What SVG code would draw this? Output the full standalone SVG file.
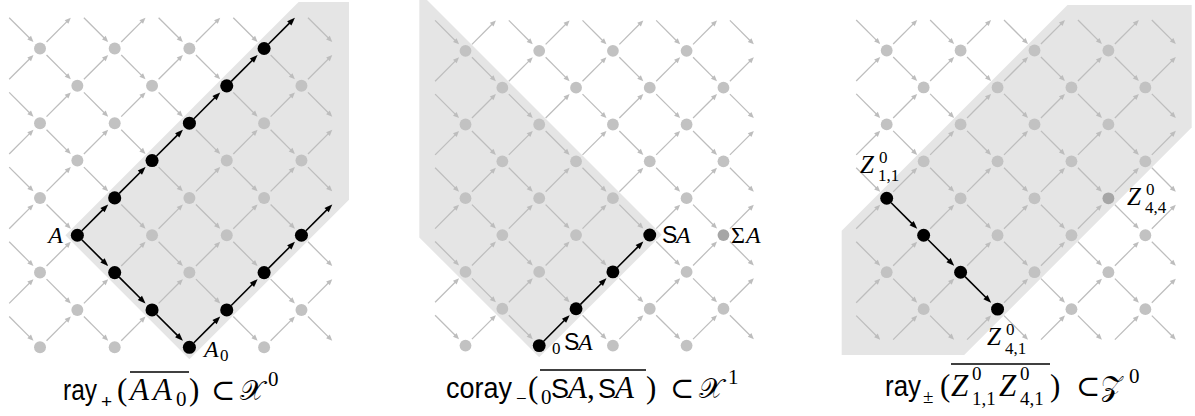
<svg xmlns="http://www.w3.org/2000/svg" width="1195" height="416" viewBox="0 0 1195 416">
<style>
.sh{fill:#e5e5e5}
.ge{stroke:#bdbdbd;fill:#bdbdbd;stroke-width:.034}
.ke{stroke:#000;fill:#000;stroke-width:.042}
.n circle{fill:#c2c2c2}
.k circle{fill:#000}
.d circle{fill:#a6a6a6}
.it{font-family:"Liberation Serif",serif;font-style:italic}
.rm{font-family:"Liberation Serif",serif}
.sf{font-family:"Liberation Sans",sans-serif}
.sy{font-family:"DejaVu Serif","DejaVu Sans",serif}
text{fill:#000}
.ov{stroke:#000;stroke-width:1.3}
</style>
<defs>
<g id="dr"><line x1=".175" y1=".175" x2=".74" y2=".74"/><polygon points=".825,.825 .7595,.6605 .6605,.7595" stroke="none"/></g>
<g id="ur"><line x1=".175" y1="-.175" x2=".74" y2="-.74"/><polygon points=".825,-.825 .7595,-.6605 .6605,-.7595" stroke="none"/></g>
<g id="kdr"><line x1=".12" y1=".12" x2=".7" y2=".7"/><polygon points=".825,.825 .731,.617 .617,.731" stroke="none"/></g>
<g id="kur"><line x1=".12" y1="-.12" x2=".7" y2="-.7"/><polygon points=".825,-.825 .731,-.617 .617,-.731" stroke="none"/></g>
<g id="co"><use href="#dr" y="-1"/><use href="#dr" y="1"/><use href="#dr" y="3"/><use href="#dr" y="5"/><use href="#dr" y="7"/><use href="#ur" y="1"/><use href="#ur" y="3"/><use href="#ur" y="5"/><use href="#ur" y="7"/></g>
<g id="ce"><use href="#dr" y="0"/><use href="#dr" y="2"/><use href="#dr" y="4"/><use href="#dr" y="6"/><use href="#ur" y="0"/><use href="#ur" y="2"/><use href="#ur" y="4"/><use href="#ur" y="6"/><use href="#ur" y="8"/></g>
<g id="lat"><use href="#co" x="-1"/><use href="#ce" x="0"/><use href="#co" x="1"/><use href="#ce" x="2"/><use href="#co" x="3"/><use href="#ce" x="4"/><use href="#co" x="5"/><use href="#ce" x="6"/><use href="#co" x="7"/></g>
</defs>

<polygon class="sh" points="65.35,235.25 298.6,2 349,2 349,199.7 189.4,359.3"/>
<polygon class="sh" points="419.3,0 427,0 661.75,234.75 539.2,357.3 419.3,237.4"/>
<polygon class="sh" points="841.7,230.8 1067.5,5 1191.7,5 1191.7,127.5 964.2,355 841.7,355"/>

<!-- Panel 1 -->
<g transform="translate(40,48.5) scale(37.35)">
<g id="p1-connectors">
<use href="#lat" class="ge"/>
<g class="ke">
<use href="#kur" x="1" y="5"/><use href="#kur" x="2" y="4"/><use href="#kur" x="3" y="3"/><use href="#kur" x="4" y="2"/><use href="#kur" x="5" y="1"/><use href="#kur" x="6" y="0"/>
<use href="#kdr" x="1" y="5"/><use href="#kdr" x="2" y="6"/><use href="#kdr" x="3" y="7"/>
<use href="#kur" x="4" y="8"/><use href="#kur" x="5" y="7"/><use href="#kur" x="6" y="6"/><use href="#kur" x="7" y="5"/>
</g>
</g>
<g id="a-0-0" class="n"><circle cx="0" cy="0" r=".16"/></g>
<g id="a-2-0" class="n"><circle cx="2" cy="0" r=".16"/></g>
<g id="a-4-0" class="n"><circle cx="4" cy="0" r=".16"/></g>
<g id="a-6-0" class="k"><circle cx="6" cy="0" r=".175"/></g>
<g id="a-1-1" class="n"><circle cx="1" cy="1" r=".16"/></g>
<g id="a-3-1" class="n"><circle cx="3" cy="1" r=".16"/></g>
<g id="a-5-1" class="k"><circle cx="5" cy="1" r=".175"/></g>
<g id="a-7-1" class="n"><circle cx="7" cy="1" r=".16"/></g>
<g id="a-0-2" class="n"><circle cx="0" cy="2" r=".16"/></g>
<g id="a-2-2" class="n"><circle cx="2" cy="2" r=".16"/></g>
<g id="a-4-2" class="k"><circle cx="4" cy="2" r=".175"/></g>
<g id="a-6-2" class="n"><circle cx="6" cy="2" r=".16"/></g>
<g id="a-1-3" class="n"><circle cx="1" cy="3" r=".16"/></g>
<g id="a-3-3" class="k"><circle cx="3" cy="3" r=".175"/></g>
<g id="a-5-3" class="n"><circle cx="5" cy="3" r=".16"/></g>
<g id="a-7-3" class="n"><circle cx="7" cy="3" r=".16"/></g>
<g id="a-0-4" class="n"><circle cx="0" cy="4" r=".16"/></g>
<g id="a-2-4" class="k"><circle cx="2" cy="4" r=".175"/></g>
<g id="a-4-4" class="n"><circle cx="4" cy="4" r=".16"/></g>
<g id="a-6-4" class="n"><circle cx="6" cy="4" r=".16"/></g>
<g id="a-A" class="k"><circle cx="1" cy="5" r=".175"/></g>
<g id="a-3-5" class="n"><circle cx="3" cy="5" r=".16"/></g>
<g id="a-5-5" class="n"><circle cx="5" cy="5" r=".16"/></g>
<g id="a-7-5" class="k"><circle cx="7" cy="5" r=".175"/></g>
<g id="a-0-6" class="n"><circle cx="0" cy="6" r=".16"/></g>
<g id="a-2-6" class="k"><circle cx="2" cy="6" r=".175"/></g>
<g id="a-4-6" class="n"><circle cx="4" cy="6" r=".16"/></g>
<g id="a-6-6" class="k"><circle cx="6" cy="6" r=".175"/></g>
<g id="a-1-7" class="n"><circle cx="1" cy="7" r=".16"/></g>
<g id="a-3-7" class="k"><circle cx="3" cy="7" r=".175"/></g>
<g id="a-5-7" class="k"><circle cx="5" cy="7" r=".175"/></g>
<g id="a-7-7" class="n"><circle cx="7" cy="7" r=".16"/></g>
<g id="a-0-8" class="n"><circle cx="0" cy="8" r=".16"/></g>
<g id="a-2-8" class="n"><circle cx="2" cy="8" r=".16"/></g>
<g id="a-A0" class="k"><circle cx="4" cy="8" r=".175"/></g>
<g id="a-6-8" class="n"><circle cx="6" cy="8" r=".16"/></g>
</g>

<!-- Panel 2 -->
<g transform="translate(465.5,50.8) scale(36.85)">
<g id="p2-connectors">
<use href="#lat" class="ge"/>
<g class="ke">
<use href="#kur" x="2" y="8"/><use href="#kur" x="3" y="7"/><use href="#kur" x="4" y="6"/>
</g>
</g>
<g id="b-0-0" class="n"><circle cx="0" cy="0" r=".16"/></g>
<g id="b-2-0" class="n"><circle cx="2" cy="0" r=".16"/></g>
<g id="b-4-0" class="n"><circle cx="4" cy="0" r=".16"/></g>
<g id="b-6-0" class="n"><circle cx="6" cy="0" r=".16"/></g>
<g id="b-1-1" class="n"><circle cx="1" cy="1" r=".16"/></g>
<g id="b-3-1" class="n"><circle cx="3" cy="1" r=".16"/></g>
<g id="b-5-1" class="n"><circle cx="5" cy="1" r=".16"/></g>
<g id="b-7-1" class="n"><circle cx="7" cy="1" r=".16"/></g>
<g id="b-0-2" class="n"><circle cx="0" cy="2" r=".16"/></g>
<g id="b-2-2" class="n"><circle cx="2" cy="2" r=".16"/></g>
<g id="b-4-2" class="n"><circle cx="4" cy="2" r=".16"/></g>
<g id="b-6-2" class="n"><circle cx="6" cy="2" r=".16"/></g>
<g id="b-1-3" class="n"><circle cx="1" cy="3" r=".16"/></g>
<g id="b-3-3" class="n"><circle cx="3" cy="3" r=".16"/></g>
<g id="b-5-3" class="n"><circle cx="5" cy="3" r=".16"/></g>
<g id="b-7-3" class="n"><circle cx="7" cy="3" r=".16"/></g>
<g id="b-0-4" class="n"><circle cx="0" cy="4" r=".16"/></g>
<g id="b-2-4" class="n"><circle cx="2" cy="4" r=".16"/></g>
<g id="b-4-4" class="n"><circle cx="4" cy="4" r=".16"/></g>
<g id="b-6-4" class="n"><circle cx="6" cy="4" r=".16"/></g>
<g id="b-1-5" class="n"><circle cx="1" cy="5" r=".16"/></g>
<g id="b-3-5" class="n"><circle cx="3" cy="5" r=".16"/></g>
<g id="b-SA" class="k"><circle cx="5" cy="5" r=".175"/></g>
<g id="b-SigmaA" class="d"><circle cx="7" cy="5" r=".16"/></g>
<g id="b-0-6" class="n"><circle cx="0" cy="6" r=".16"/></g>
<g id="b-2-6" class="n"><circle cx="2" cy="6" r=".16"/></g>
<g id="b-4-6" class="k"><circle cx="4" cy="6" r=".175"/></g>
<g id="b-6-6" class="n"><circle cx="6" cy="6" r=".16"/></g>
<g id="b-1-7" class="n"><circle cx="1" cy="7" r=".16"/></g>
<g id="b-3-7" class="k"><circle cx="3" cy="7" r=".175"/></g>
<g id="b-5-7" class="n"><circle cx="5" cy="7" r=".16"/></g>
<g id="b-7-7" class="n"><circle cx="7" cy="7" r=".16"/></g>
<g id="b-0-8" class="n"><circle cx="0" cy="8" r=".16"/></g>
<g id="b-0SA" class="k"><circle cx="2" cy="8" r=".175"/></g>
<g id="b-4-8" class="n"><circle cx="4" cy="8" r=".16"/></g>
<g id="b-6-8" class="n"><circle cx="6" cy="8" r=".16"/></g>
</g>

<!-- Panel 3 -->
<g transform="translate(886.7,50.5) scale(36.95)">
<g id="p3-connectors">
<use href="#lat" class="ge"/>
<g class="ke">
<use href="#kdr" x="0" y="4"/><use href="#kdr" x="1" y="5"/><use href="#kdr" x="2" y="6"/>
</g>
</g>
<g id="c-0-0" class="n"><circle cx="0" cy="0" r=".16"/></g>
<g id="c-2-0" class="n"><circle cx="2" cy="0" r=".16"/></g>
<g id="c-4-0" class="n"><circle cx="4" cy="0" r=".16"/></g>
<g id="c-6-0" class="n"><circle cx="6" cy="0" r=".16"/></g>
<g id="c-1-1" class="n"><circle cx="1" cy="1" r=".16"/></g>
<g id="c-3-1" class="n"><circle cx="3" cy="1" r=".16"/></g>
<g id="c-5-1" class="n"><circle cx="5" cy="1" r=".16"/></g>
<g id="c-7-1" class="n"><circle cx="7" cy="1" r=".16"/></g>
<g id="c-0-2" class="n"><circle cx="0" cy="2" r=".16"/></g>
<g id="c-2-2" class="n"><circle cx="2" cy="2" r=".16"/></g>
<g id="c-4-2" class="n"><circle cx="4" cy="2" r=".16"/></g>
<g id="c-6-2" class="n"><circle cx="6" cy="2" r=".16"/></g>
<g id="c-1-3" class="n"><circle cx="1" cy="3" r=".16"/></g>
<g id="c-3-3" class="n"><circle cx="3" cy="3" r=".16"/></g>
<g id="c-5-3" class="n"><circle cx="5" cy="3" r=".16"/></g>
<g id="c-7-3" class="n"><circle cx="7" cy="3" r=".16"/></g>
<g id="c-Z11" class="k"><circle cx="0" cy="4" r=".175"/></g>
<g id="c-2-4" class="n"><circle cx="2" cy="4" r=".16"/></g>
<g id="c-4-4" class="n"><circle cx="4" cy="4" r=".16"/></g>
<g id="c-Z44" class="d"><circle cx="6" cy="4" r=".16"/></g>
<g id="c-1-5" class="k"><circle cx="1" cy="5" r=".175"/></g>
<g id="c-3-5" class="n"><circle cx="3" cy="5" r=".16"/></g>
<g id="c-5-5" class="n"><circle cx="5" cy="5" r=".16"/></g>
<g id="c-7-5" class="n"><circle cx="7" cy="5" r=".16"/></g>
<g id="c-0-6" class="n"><circle cx="0" cy="6" r=".16"/></g>
<g id="c-2-6" class="k"><circle cx="2" cy="6" r=".175"/></g>
<g id="c-4-6" class="n"><circle cx="4" cy="6" r=".16"/></g>
<g id="c-6-6" class="n"><circle cx="6" cy="6" r=".16"/></g>
<g id="c-1-7" class="n"><circle cx="1" cy="7" r=".16"/></g>
<g id="c-Z41" class="k"><circle cx="3" cy="7" r=".175"/></g>
<g id="c-5-7" class="n"><circle cx="5" cy="7" r=".16"/></g>
<g id="c-7-7" class="n"><circle cx="7" cy="7" r=".16"/></g>
</g>

<!-- node labels -->
<g id="labels" font-size="24">
<text class="it" x="63" y="243" text-anchor="end">A</text>
<text x="204" y="357"><tspan class="it">A</tspan><tspan class="rm" x="220" y="361" font-size="17">0</tspan></text>
<text x="552" y="354"><tspan class="rm" font-size="17">0</tspan><tspan class="sf" x="564" y="350" font-size="23">S</tspan><tspan class="it" x="578">A</tspan></text>
<text y="243"><tspan class="sf" x="662" font-size="23">S</tspan><tspan class="it" x="676">A</tspan></text>
<text y="243"><tspan class="rm" x="731">Σ</tspan><tspan class="it" x="746">A</tspan></text>
<text font-size="25"><tspan class="it" x="860" y="173">Z</tspan><tspan class="rm" font-size="17" x="879" y="163">0</tspan><tspan class="rm" font-size="17" x="878" y="181">1,1</tspan></text>
<text font-size="25"><tspan class="it" x="1127" y="205">Z</tspan><tspan class="rm" font-size="17" x="1146" y="195">0</tspan><tspan class="rm" font-size="17" x="1145" y="213">4,4</tspan></text>
<text font-size="25"><tspan class="it" x="987" y="345">Z</tspan><tspan class="rm" font-size="17" x="1006" y="335">0</tspan><tspan class="rm" font-size="17" x="1005" y="354">4,1</tspan></text>
</g>

<!-- captions -->
<g id="caption1" font-size="31">
<text class="sf" x="63" y="400" font-size="29" textLength="34" lengthAdjust="spacingAndGlyphs">ray</text>
<text y="400"><tspan class="sf" x="101" y="408" font-size="19">+</tspan><tspan class="rm" x="117" y="400">(</tspan><tspan class="it" x="130">A</tspan><tspan class="it" x="153">A</tspan><tspan class="rm" x="176" y="406" font-size="21">0</tspan><tspan class="rm" x="189" y="400">)</tspan><tspan class="sy" x="211" font-size="29">⊂</tspan><tspan class="sy" x="240" font-size="28">𝒳</tspan><tspan class="rm" x="268" y="386" font-size="21">0</tspan></text>
<line class="ov" x1="130" y1="372" x2="189" y2="372"/>
</g>
<g id="caption2" font-size="31">
<text class="sf" x="446" y="398" font-size="29" textLength="66" lengthAdjust="spacingAndGlyphs">coray</text>
<text y="398"><tspan class="rm" x="516" y="405" font-size="19">−</tspan><tspan class="rm" x="528" y="398">(</tspan><tspan class="rm" x="541" y="404" font-size="21">0</tspan><tspan class="sf" x="551" y="398" font-size="27">S</tspan><tspan class="it" x="568">A</tspan><tspan class="rm" x="587">,</tspan><tspan class="sf" x="598" font-size="27">S</tspan><tspan class="it" x="615">A</tspan><tspan class="rm" x="646">)</tspan><tspan class="sy" x="670" font-size="29">⊂</tspan><tspan class="sy" x="699" font-size="28">𝒳</tspan><tspan class="rm" x="728" y="384" font-size="21">1</tspan></text>
<line class="ov" x1="540" y1="370" x2="646" y2="370"/>
</g>
<g id="caption3" font-size="31">
<text class="sf" x="885" y="396" font-size="29" textLength="36" lengthAdjust="spacingAndGlyphs">ray</text>
<text y="396"><tspan class="rm" x="923" y="403" font-size="19">±</tspan><tspan class="rm" x="940" y="396">(</tspan><tspan class="it" x="951">Z</tspan><tspan class="rm" x="972" y="380" font-size="19">0</tspan><tspan class="rm" x="972" y="405" font-size="19">1,1</tspan><tspan class="it" x="999" y="396">Z</tspan><tspan class="rm" x="1020" y="380" font-size="19">0</tspan><tspan class="rm" x="1020" y="405" font-size="19">4,1</tspan><tspan class="rm" x="1050" y="396">)</tspan><tspan class="sy" x="1076" font-size="29">⊂</tspan><tspan class="sy" x="1101" font-size="28">𝒵</tspan><tspan class="rm" x="1129" y="383" font-size="21">0</tspan></text>
<line class="ov" x1="951" y1="364" x2="1050" y2="364"/>
</g>
</svg>
